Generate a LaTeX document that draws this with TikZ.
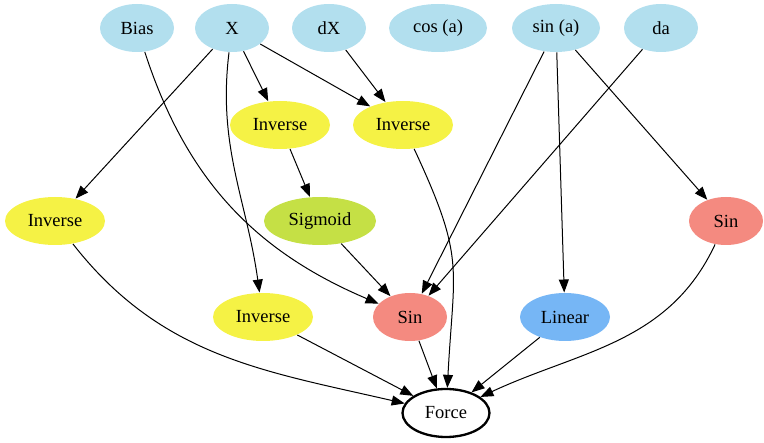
\documentclass[tikz,border=0pt]{standalone}
\usepackage{fontspec}
\setmainfont{Liberation Serif}
\usepackage{tikz}
\usetikzlibrary{arrows.meta, shapes.geometric}

\definecolor{inblue}{HTML}{B2DFEE}
\definecolor{invyellow}{HTML}{F5F245}
\definecolor{siggreen}{HTML}{C5E045}
\definecolor{sinred}{HTML}{F48A80}
\definecolor{linblue}{HTML}{76B6F5}

\begin{document}
\begin{tikzpicture} [x = 1pt, y = -1pt, >={Triangle[length=13pt, width=10pt]}, line width = 1pt,
  every node/.style = {ellipse, inner sep = 0pt, minimum height = 48pt, font = \fontsize{18.5}{20}\selectfont},
  inp/.style = {fill = inblue, minimum width = 74pt},
  inv/.style = {fill = invyellow, minimum width = 100pt},
  sn/.style = {fill = sinred, minimum width = 74pt}]
\useasboundingbox (0,0) rectangle (764,443);
% inputs
\node[inp] (bias) at (137,28) {Bias};
\node[inp] (x) at (232,28) {X};
\node[inp] (dx) at (329,28) {dX};
\node[inp, minimum width = 98pt] (cosa) at (438,28) {cos (a)};
\node[inp, minimum width = 88pt] (sina) at (556,28) {sin (a)};
\node[inp] (da) at (661,28) {da};
% operations
\node[inv] (inva) at (280,125) {Inverse};
\node[inv] (invb) at (403,125) {Inverse};
\node[inv] (invc) at (55,221) {Inverse};
\node[fill = siggreen, minimum width = 112pt] (sigm) at (320,221) {Sigmoid};
\node[sn] (sinr) at (726,221) {Sin};
\node[inv] (invd) at (263,317) {Inverse};
\node[sn] (sinm) at (410,317) {Sin};
\node[fill = linblue, minimum width = 90pt] (lin) at (565,317) {Linear};
\node[draw, line width = 2.3pt, minimum width = 87pt, fill = white] (force) at (446,413) {Force};

\draw [->] (x) -- (invc);
\draw [->] (x) to [out = -97, in = 98] (invd);
\draw [->] (x) -- (inva);
\draw [->] (x) -- (invb);
\draw [->] (dx) -- (invb);
\draw [->] (bias) to [out = -72, in = 157] (sinm);
\draw [->] (inva) -- (sigm);
\draw [->] (sigm) -- (sinm);
\draw [->] (sina) -- (sinm);
\draw [->] (da) -- (sinm);
\draw [->] (sina) -- (lin);
\draw [->] (sina) -- (sinr);
\draw [->] (invb) to [out = -65, in = 87, looseness = 1.3] (force);
\draw [->] (invc) to [out = -52, in = 167] (force);
\draw [->] (invd) -- (force);
\draw [->] (sinm) -- (force);
\draw [->] (lin) -- (force);
\draw [->] (sinr) to [out = -115, in = 25] (force);
\end{tikzpicture}
\end{document}
